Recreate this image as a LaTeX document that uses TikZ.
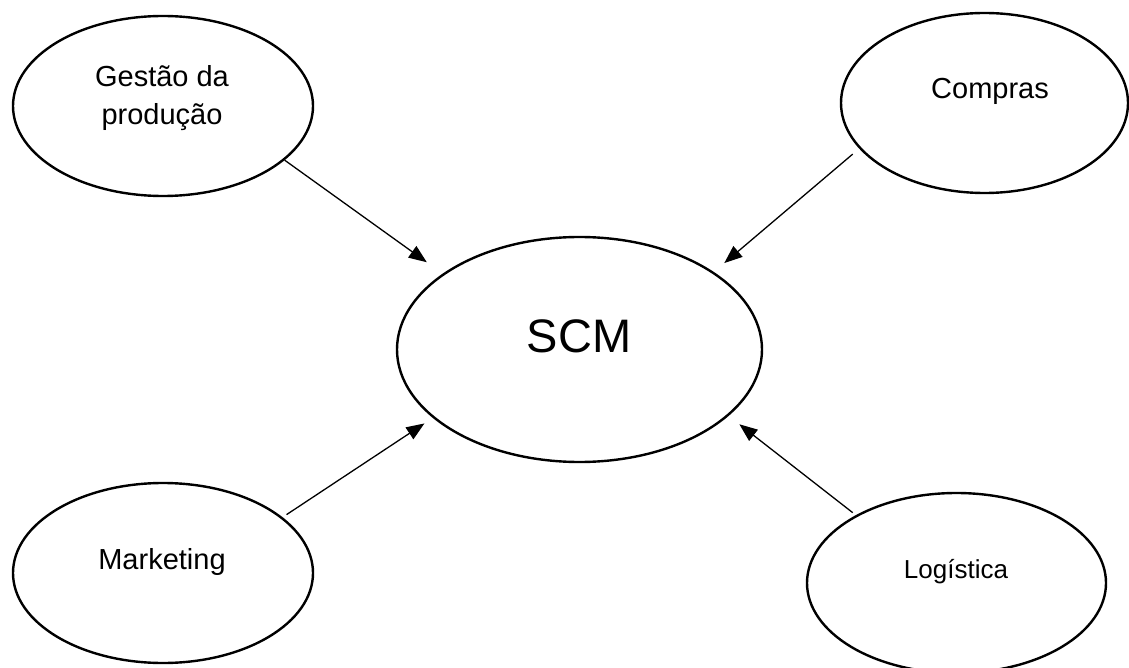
\documentclass[tikz,border=0pt]{standalone}
\usepackage{fontspec}
\setmainfont{Liberation Sans}
\usetikzlibrary{arrows.meta,shapes.geometric}
\tikzset{
  bubble/.style={draw=black, line width=2.4pt, ellipse, inner sep=0pt},
  lbl/.style={font=\fontsize{29}{38}\selectfont, inner sep=0pt, anchor=base, align=center},
  conn/.style={draw=black, line width=1.3pt, -{Triangle[length=18pt,width=14pt]}},
}
\begin{document}
\begin{tikzpicture}[x=1pt,y=-1pt]
\useasboundingbox (0,0) rectangle (1129,668);
% ellipses
\node[bubble, minimum width=300pt, minimum height=180pt] (gp) at (163,106) {};
\node[bubble, minimum width=287pt, minimum height=180pt] (co) at (984.5,103) {};
\node[bubble, minimum width=365pt, minimum height=225pt] (scm) at (579.5,349.5) {};
\node[bubble, minimum width=300pt, minimum height=180pt] (mk) at (163,573) {};
\node[bubble, minimum width=299pt, minimum height=180pt] (lg) at (956.5,583) {};
% labels
\node[lbl] (gpt) at (162,125) {Gestão da\\produção};
\node[lbl] (cot) at (990,99) {Compras};
\node[lbl, font=\fontsize{47}{56}\selectfont] (scmt) at (579,352) {SCM};
\node[lbl] (mkt) at (162,569) {Marketing};
\node[lbl, font=\fontsize{26}{31}\selectfont] (lgt) at (956,578) {Logística};
% connectors
\draw[conn, shorten >=19.5pt] (gp.-24.3) -- (scm.151.3);
\draw[conn, shorten <=8.5pt, shorten >=13.7pt] (co.200.3) -- (scm.30.1);
\draw[conn, shorten <=4.7pt, shorten >=10pt] (mk.25.8) -- (scm.205.4);
\draw[conn, shorten <=4pt, shorten >=13.6pt] (lg.146.8) -- (scm.-24.7);
\end{tikzpicture}
\end{document}
